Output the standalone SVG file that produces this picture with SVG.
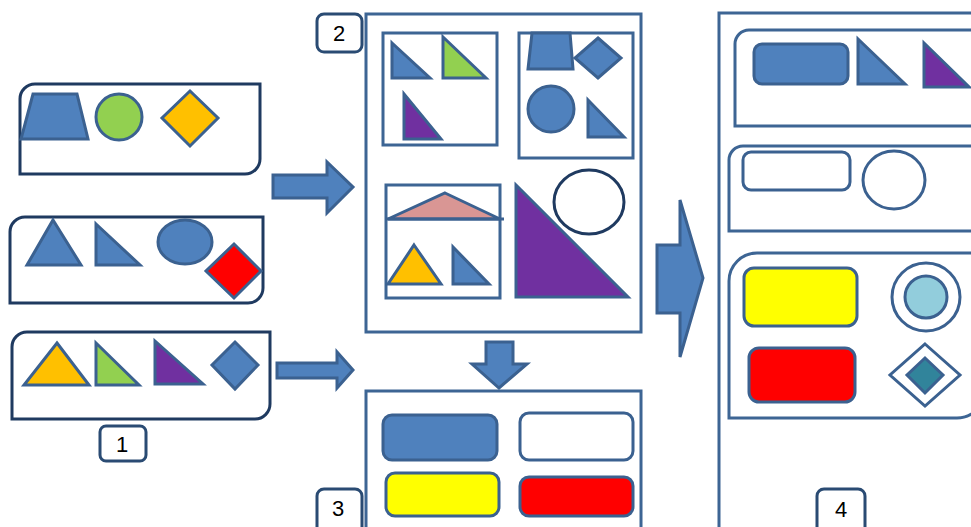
<svg xmlns="http://www.w3.org/2000/svg" width="971" height="527" viewBox="0 0 971 527">
  <style>
    .frame { fill: #ffffff; stroke: #3d6594; stroke-width: 3; }
    .group { fill: #ffffff; stroke: #1f3a60; stroke-width: 3; }
    .tag { fill: #ffffff; stroke: #2a4b73; stroke-width: 3; }
    .tag-text { font-family: "Liberation Sans", Arial, sans-serif; font-size: 22px; fill: #000000; text-anchor: middle; }
    .s { stroke: #3b6190; stroke-width: 3; stroke-linejoin: miter; }
    .blue { fill: #4f81bd; }
    .green { fill: #92d050; }
    .orange { fill: #ffc000; }
    .purple { fill: #7030a0; }
    .red { fill: #ff0000; }
    .yellow { fill: #ffff00; }
    .pink { fill: #d99694; }
    .white { fill: #ffffff; }
    .sky { fill: #92cddc; }
    .teal { fill: #31849b; }
    .arrow { fill: #4f81bd; stroke: #3b6190; stroke-width: 3; }
  </style>

  <rect width="971" height="527" fill="#ffffff"/>

  <!-- Step 1: three source groups -->
  <g id="group-a">
    <path class="group" d="M35,84 H260 V159 A15,15 0 0 1 245,174 H20 V99 A15,15 0 0 1 35,84 Z"/>
    <polygon class="s blue" points="33,94 77,94 88,139 21,139"/>
    <circle class="s green" cx="119" cy="117" r="23"/>
    <polygon class="s orange" points="190,91 218,118 190,146 162,118"/>
  </g>
  <g id="group-b">
    <path class="group" d="M25,217 H263 V288 A15,15 0 0 1 248,303 H10 V232 A15,15 0 0 1 25,217 Z"/>
    <polygon class="s blue" points="53,220 81,265 27,265"/>
    <polygon class="s blue" points="96,224 140,265 96,265"/>
    <ellipse class="s blue" cx="185" cy="242" rx="27" ry="22"/>
    <polygon class="s red" points="234,244 261,271 234,298 206,271"/>
  </g>
  <g id="group-c">
    <path class="group" d="M27,332 H270 V404 A15,15 0 0 1 255,419 H12 V347 A15,15 0 0 1 27,332 Z"/>
    <polygon class="s orange" points="57,343 89,385 24,385"/>
    <polygon class="s green" points="96,343 139,385 96,385"/>
    <polygon class="s purple" points="155,341 203,384 155,384"/>
    <polygon class="s blue" points="235,342 258,365 235,389 212,365"/>
  </g>
  <g id="tag-1">
    <rect class="tag" x="100" y="426" width="46" height="35" rx="6"/>
    <text class="tag-text" x="122" y="452">1</text>
  </g>

  <!-- Step 2: sorted panel -->
  <g id="panel-2">
    <rect class="frame" x="366" y="14" width="275" height="318"/>
    <rect class="frame" x="383" y="33" width="114" height="112"/>
    <polygon class="s blue" points="392,43 430,78 392,78"/>
    <polygon class="s green" points="443,37 486,78 443,78"/>
    <polygon class="s purple" points="404,94 441,139 404,139"/>

    <rect class="frame" x="519" y="33" width="114" height="125"/>
    <polygon class="s blue" points="532,33 570,33 573,69 528,69"/>
    <polygon class="s blue" points="598,38 621,58 598,78 575,58"/>
    <circle class="s blue" cx="551" cy="109" r="23"/>
    <polygon class="s blue" points="588,100 624,137 588,137"/>

    <rect class="frame" x="386" y="185" width="114" height="113"/>
    <polygon class="s pink" points="445,193 500,219 388,219"/>
    <line class="s" x1="386" y1="219" x2="504" y2="219"/>
    <polygon class="s orange" points="414,245 441,284 388,284"/>
    <polygon class="s blue" points="453,247 489,284 453,284"/>

    <polygon class="s purple" points="516,185 628,297 516,297"/>
    <ellipse cx="589" cy="202" rx="35" ry="32" fill="#ffffff" stroke="#1f3a60" stroke-width="3"/>
  </g>
  <g id="tag-2">
    <rect class="tag" x="317" y="14" width="45" height="38" rx="7"/>
    <text class="tag-text" x="339" y="41">2</text>
  </g>

  <!-- Step 3: outline blocks -->
  <g id="panel-3">
    <rect class="frame" x="366" y="391" width="275" height="160"/>
    <rect class="s blue" x="383" y="415" width="114" height="45" rx="9"/>
    <rect class="s white" x="520" y="413" width="113" height="47" rx="9"/>
    <rect class="s yellow" x="386" y="473" width="113" height="43" rx="9"/>
    <rect class="s red" x="520" y="477" width="113" height="39" rx="9"/>
  </g>
  <g id="tag-3">
    <rect class="tag" x="317" y="489" width="45" height="50" rx="7"/>
    <text class="tag-text" x="338" y="516">3</text>
  </g>

  <!-- Step 4: combined result -->
  <g id="panel-4">
    <rect class="frame" x="719" y="13" width="300" height="600"/>
    <path class="frame" d="M749,30 H985 V112 A14,14 0 0 1 971,126 H735 V44 A14,14 0 0 1 749,30 Z"/>
    <rect class="s blue" x="754" y="44" width="94" height="40" rx="8"/>
    <polygon class="s blue" points="858,39 905,84 858,84"/>
    <polygon class="s purple" points="924,43 969,87 924,87"/>

    <path class="frame" d="M743,146 H985 V217 A14,14 0 0 1 971,231 H729 V160 A14,14 0 0 1 743,146 Z"/>
    <rect class="s white" x="743" y="152" width="107" height="38" rx="8"/>
    <ellipse class="s white" cx="894" cy="180" rx="31" ry="29"/>

    <path class="frame" d="M757,253 H985 V390 A28,28 0 0 1 957,418 H729 V281 A28,28 0 0 1 757,253 Z"/>
    <rect class="s yellow" x="744" y="268" width="113" height="58" rx="10"/>
    <rect class="s red" x="749" y="348" width="106" height="54" rx="10"/>
    <circle class="s white" cx="926" cy="297" r="34"/>
    <circle class="s sky" cx="926" cy="297" r="21"/>
    <polygon class="s white" points="925,344 960,375 925,406 890,375"/>
    <polygon class="s teal" points="925,358 943,375 925,393 907,375"/>
  </g>
  <g id="tag-4">
    <rect class="tag" x="817" y="489" width="48" height="50" rx="7"/>
    <text class="tag-text" x="841" y="517">4</text>
  </g>

  <!-- Connectors: block arrows -->
  <g id="connectors">
    <polygon class="arrow" points="273,175 327,175 327,162 353,187 327,213 327,198 273,198"/>
    <polygon class="arrow" points="277,363 337,363 337,352 353,370 337,388 337,378 277,378"/>
    <polygon class="arrow" points="486,342 513,342 513,364 527,364 499,388 472,364 486,364"/>
    <polygon class="arrow" points="657,245 680,245 680,200 703,278 680,357 680,313 657,313"/>
  </g>
</svg>
